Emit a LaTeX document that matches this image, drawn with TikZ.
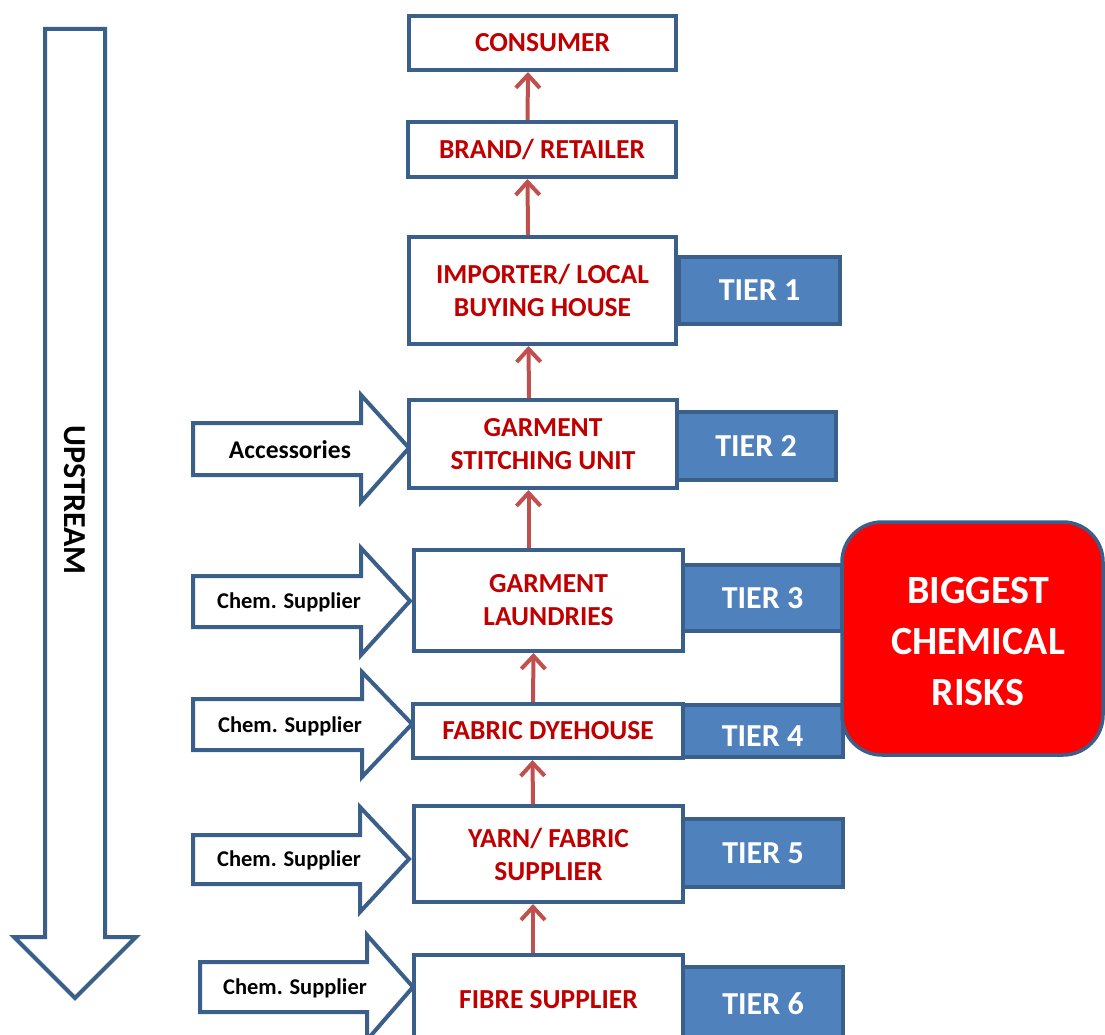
\documentclass[tikz,border=0pt]{standalone}
\usepackage{fontspec}
\setmainfont{Carlito}
\usetikzlibrary{arrows.meta}
\definecolor{bordc}{HTML}{3A5F8B}
\definecolor{tierfill}{HTML}{4F81BD}
\definecolor{flowred}{HTML}{C0504D}
\definecolor{textred}{HTML}{C00000}
\definecolor{riskred}{HTML}{FF0000}
\begin{document}
\begin{tikzpicture}[x=1pt,y=-1pt,
  stage/.style={draw=bordc, line width=4pt, fill=white, inner sep=0pt, align=center,
    text=textred, font=\fontsize{27.5}{33}\selectfont\bfseries},
  tierbox/.style={draw=bordc, line width=4pt, fill=tierfill, inner sep=0pt,
    text=white, font=\fontsize{32}{36}\selectfont\bfseries},
  riskbox/.style={draw=bordc, line width=3.5pt, fill=riskred, inner sep=0pt, align=center,
    text=white, font=\fontsize{40}{51}\selectfont\bfseries, rounded corners=40pt},
  blockarrow/.style={draw=bordc, line width=4pt, fill=white, line join=miter},
  inlabel/.style={inner sep=0pt, text=black, font=\fontsize{22.5}{26}\selectfont\bfseries},
  flow/.style={draw=flowred, line width=4pt, -{Straight Barb[length=13pt,width=24pt]}}
]
\useasboundingbox (0,0) rectangle (1105,1035);

% direction arrow on the left
\draw[blockarrow] (45,29) -- (105,29) -- (105,937) -- (136,937) -- (75,998) -- (14,937) -- (45,937) -- cycle;
\node[rotate=-90, inner sep=0pt, font=\fontsize{32}{36}\selectfont\bfseries] (upstream) at (75,500) {UPSTREAM};

% inputs entering the chain
\draw[blockarrow] (193,423) -- (361,423) -- (361,395) -- (409,448) -- (361,502) -- (361,475) -- (193,475) -- cycle;
\node[inlabel, font=\fontsize{25.5}{30}\selectfont\bfseries] (acc) at (290,450) {Accessories};
\draw[blockarrow] (193,576) -- (361,576) -- (361,548) -- (410,601) -- (361,655) -- (361,627) -- (193,627) -- cycle;
\node[inlabel] (chemA) at (289,602) {Chem. Supplier};
\draw[blockarrow] (193,699) -- (362,699) -- (362,672) -- (412,724) -- (362,777) -- (362,750) -- (193,750) -- cycle;
\node[inlabel] (chemB) at (290,726) {Chem. Supplier};
\draw[blockarrow] (193,835) -- (360,835) -- (360,807) -- (409,859) -- (360,912) -- (360,884) -- (193,884) -- cycle;
\node[inlabel] (chemC) at (289,860) {Chem. Supplier};
\draw[blockarrow] (200,962) -- (367,962) -- (367,935) -- (413,987) -- (367,1040) -- (367,1012) -- (200,1012) -- cycle;
\node[inlabel] (chemD) at (295,988) {Chem. Supplier};

% tier labels
\node[tierbox, minimum width=161pt, minimum height=67pt] (tier1) at (759.5,290.5) {TIER 1};
\node[tierbox, minimum width=160pt, minimum height=68pt] (tier2) at (756,446) {TIER 2};
\node[tierbox, minimum width=159pt, minimum height=66pt] (tier3) at (762.5,598) {TIER 3};
\node[tierbox, minimum width=161pt, minimum height=52pt, text height=30pt, text depth=0pt] (tier4) at (762.5,731) {TIER 4};
\node[tierbox, minimum width=160pt, minimum height=68pt] (tier5) at (763,853) {TIER 5};
\node[tierbox, minimum width=160pt, minimum height=73pt] (tier6) at (763,1003.5) {TIER 6};

% supply chain stages
\node[stage, minimum width=267pt, minimum height=54pt] (consumer) at (542.5,43) {CONSUMER};
\node[stage, minimum width=268pt, minimum height=55pt] (brand) at (542,149.5) {BRAND/ RETAILER};
\node[stage, minimum width=267pt, minimum height=107pt] (importer) at (542.5,290.5) {IMPORTER/ LOCAL\\BUYING HOUSE};
\node[stage, minimum width=268pt, minimum height=88pt] (stitching) at (543,444) {GARMENT\\STITCHING UNIT};
\node[stage, minimum width=269pt, minimum height=101pt] (laundries) at (548.5,600.5) {GARMENT\\LAUNDRIES};
\node[stage, minimum width=270pt, minimum height=54pt] (dyehouse) at (548,731) {FABRIC DYEHOUSE};
\node[stage, minimum width=269pt, minimum height=96pt] (yarn) at (548.5,854) {YARN/ FABRIC\\SUPPLIER};
\node[stage, minimum width=269pt, minimum height=90pt] (fibre) at (548.5,1000) {FIBRE SUPPLIER};

% flow between stages
\draw[flow] ([xshift=-14.5pt]brand.north) -- ([xshift=-14.5pt]consumer.south);
\draw[flow] ([xshift=-14.5pt]importer.north) -- ([xshift=-14.5pt]brand.south);
\draw[flow] ([xshift=-14pt]stitching.north) -- ([xshift=-14pt]importer.south);
\draw[flow] ([xshift=-20pt]laundries.north) -- ([xshift=-20pt]laundries.north |- stitching.south);
\draw[flow] ([xshift=-15pt]dyehouse.north) -- ([xshift=-15pt]laundries.south);
\draw[flow] ([xshift=-15.5pt]yarn.north) -- ([xshift=-15.5pt]dyehouse.south);
\draw[flow] ([xshift=-15.5pt]fibre.north) -- ([xshift=-15.5pt]yarn.south);

% highlighted risk zone
\node[riskbox, minimum width=261pt, minimum height=233pt] (risk) at (972.5,638.5)
  {\hspace*{11pt}\raisebox{-6pt}[\height][\depth]{\begin{tabular}{@{}c@{}}BIGGEST\\CHEMICAL\\RISKS\end{tabular}}};
\end{tikzpicture}
\end{document}
